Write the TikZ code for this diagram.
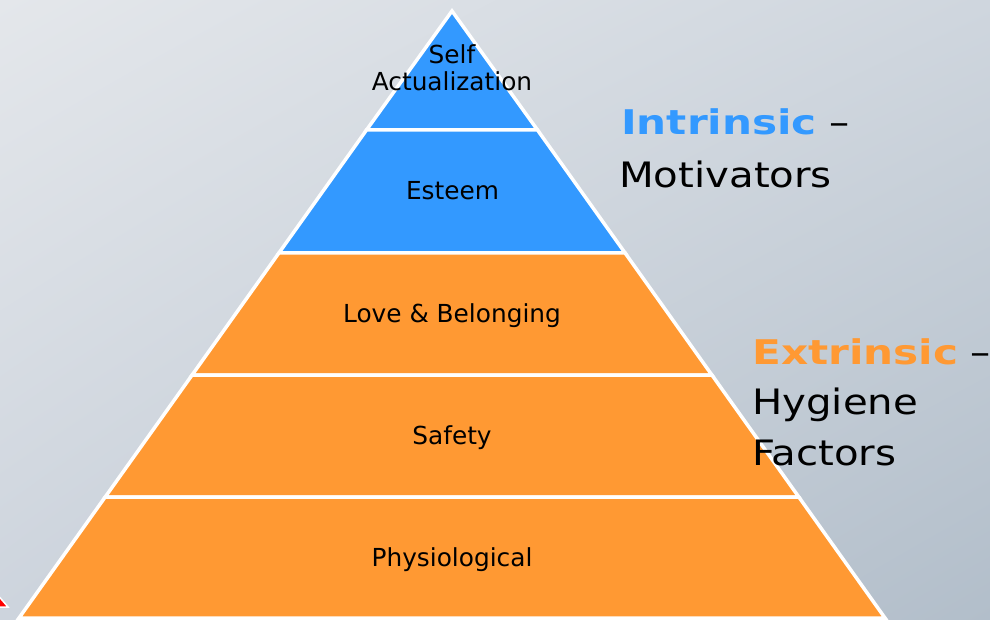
\documentclass[tikz,border=0pt]{standalone}
\usepackage{fontspec}
\usetikzlibrary{shadings}
\setmainfont{DejaVu Sans}
\newfontfamily\sideR[FakeStretch=1.15]{DejaVu Sans}
\newfontfamily\sideB[FakeStretch=1.24]{DejaVu Sans}
\definecolor{blu}{HTML}{3399FF}
\definecolor{org}{HTML}{FF9933}
\definecolor{bgUL}{HTML}{E4E7EB}
\definecolor{bgUR}{HTML}{CFD6DE}
\definecolor{bgLL}{HTML}{CDD4DD}
\definecolor{bgLR}{HTML}{B2BECA}
\begin{document}
\begin{tikzpicture}[x=1pt,y=-1pt,
  layer/.style={line width=3.5pt, draw=white, line join=miter},
  lbl/.style={font=\fontsize{24.8}{27.5}\selectfont, text=black, inner sep=0pt},
  side/.style={inner sep=0pt, anchor=base west, text=black, font=\sideR\fontsize{35}{40}\selectfont}]
\useasboundingbox (0,0) rectangle (990,620);
\shade[upper left=bgUL, upper right=bgUR, lower left=bgLL, lower right=bgLR] (0,0) rectangle (990,620);
% small red mark at the lower left corner
\filldraw[fill=red, draw=white, line width=1.5pt] (-4,593) -- (8,607) -- (-4,607) -- cycle;
% pyramid layers
\coordinate (apex) at (452,11);
\coordinate (l1) at (366.5,130); \coordinate (r1) at (537.5,130);
\coordinate (l2) at (278.9,253); \coordinate (r2) at (625.1,253);
\coordinate (l3) at (192.1,375); \coordinate (r3) at (711.9,375);
\coordinate (l4) at (105.2,497); \coordinate (r4) at (798.8,497);
\coordinate (l5) at (19,618);    \coordinate (r5) at (885,618);
\filldraw[layer, fill=blu] (apex) -- (r1) -- (l1) -- cycle;
\filldraw[layer, fill=blu] (l1) -- (r1) -- (r2) -- (l2) -- cycle;
\filldraw[layer, fill=org] (l2) -- (r2) -- (r3) -- (l3) -- cycle;
\filldraw[layer, fill=org] (l3) -- (r3) -- (r4) -- (l4) -- cycle;
\filldraw[layer, fill=org] (l4) -- (r4) -- (r5) -- (l5) -- cycle;
% layer labels
\node[lbl, align=center] (selfact) at (452,67.7) {Self\\Actualization};
\node[lbl, anchor=base] (esteem) at (452.5,199.3) {Esteem};
\node[lbl, anchor=base] (love) at (452,322.3) {Love \& Belonging};
\node[lbl, anchor=base] (safety) at (452,444.5) {Safety};
\node[lbl, anchor=base] (phys) at (452,566.7) {Physiological};
% side texts
\node[side] (intr) at (621,135) {{\sideB\bfseries\fontsize{34}{40}\selectfont\color{blu}Intrinsic} –};
\node[side] (motiv) at (619,188) {Motivators};
\node[side] (extr) at (752,364) {{\sideB\bfseries\fontsize{34}{40}\selectfont\color{org}Extrinsic} –};
\node[side] (hyg) at (752,414.5) {Hygiene};
\node[side] (fact) at (752,465) {Factors};
\end{tikzpicture}
\end{document}
